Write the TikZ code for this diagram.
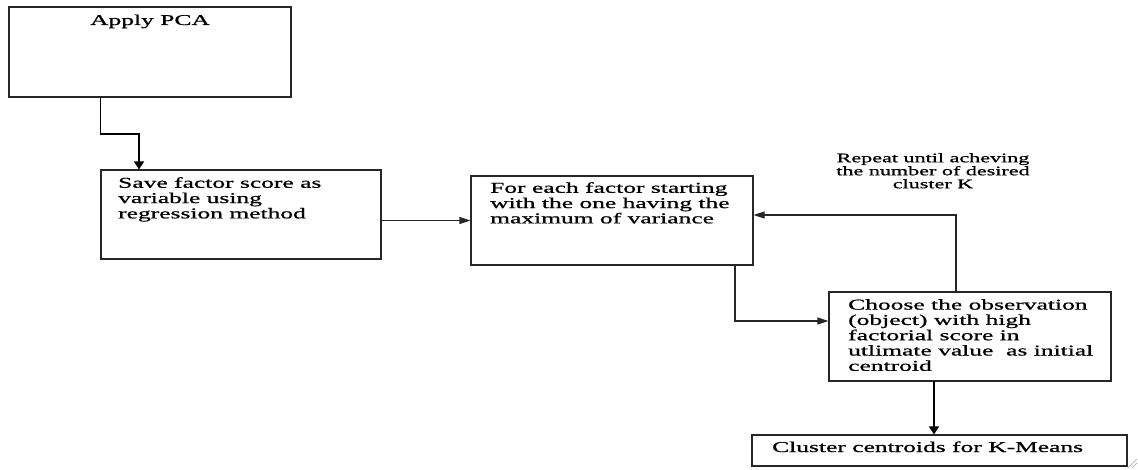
\documentclass[tikz,border=0pt]{standalone}
\usepackage{fontspec}
\setmainfont{Liberation Serif}[FakeStretch=1.7, FakeBold=0.9]
\usetikzlibrary{arrows.meta,calc}
\begin{document}
\begin{tikzpicture}[x=1pt,y=-1pt,
  box/.style={draw=black!85, line width=1.1pt, inner sep=0pt},
  txt/.style={inner sep=0pt, anchor=north west, align=left, font=\fontsize{15}{15.3}\selectfont},
  lbl/.style={inner sep=0pt, anchor=north, align=center, font=\fontsize{13}{13}\selectfont},
  arr/.style={line width=1.1pt, draw=black!85, -{Triangle[length=11pt,width=7pt]}},
  arrb/.style={line width=1.5pt, draw=black, -{Triangle[length=8pt,width=10pt]}}]
\useasboundingbox (0,0) rectangle (1138,470);
% boxes
\node[box, minimum width=282pt, minimum height=90pt] (b1) at (150,52) {};
\node[box, minimum width=280pt, minimum height=89pt] (b2) at (241,214.5) {};
\node[box, minimum width=282pt, minimum height=89pt] (b3) at (612,220.5) {};
\node[box, minimum width=282pt, minimum height=89pt] (b4) at (970,336.5) {};
\node[box, minimum width=375pt, minimum height=31pt] (b5) at (939.5,450.5) {};
% texts
\node[txt, anchor=base] (t1) at (150,25) {Apply PCA};
\node[txt] (t2) at (118,177) {Save factor score as\\variable using\\regression method};
\node[txt] (t3) at (490,182) {For each factor starting\\with the one having the\\maximum of variance};
\node[txt] (t4) at (848,299) {Choose the observation\\(object) with high\\factorial score in\\utlimate value\ \ as initial\\centroid};
\node[txt, anchor=base west] (t5) at (772,452) {Cluster centroids for K-Means};
\node[lbl] (rep) at (933,153) {Repeat until acheving\\the number of desired\\cluster K};
% connectors
\coordinate (c1) at ($(b1.south west)+(92,0)$);
\coordinate (k1) at (139,134);
\draw[arrb] (c1) |- (k1) -- (k1 |- b2.north);
\draw[arr] (b2.east |- b3.west) -- (b3.west);
\coordinate (c3) at (735,265);
\coordinate (k3) at (735,321);
\draw[arr] (c3) -- (k3) -- (k3 -| b4.west);
\coordinate (c4) at (956,292);
\coordinate (k4) at (956,215);
\draw[arr] (c4) -- (k4) -- (k4 -| b3.east);
\coordinate (c5) at (934,381);
\draw[arrb] (c5) -- (c5 |- b5.north);
% resize grip
\draw[black!25, line width=0.8pt] (1128,468) -- (1137,459) (1132,468) -- (1137,463);
\end{tikzpicture}
\end{document}
